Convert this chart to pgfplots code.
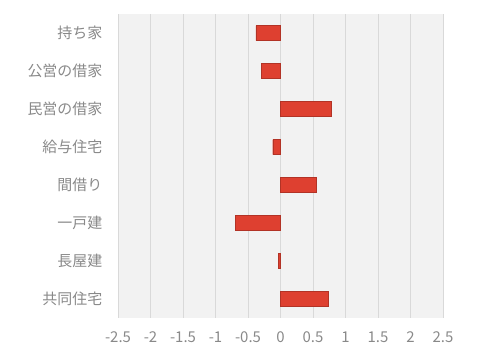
\documentclass[border=0pt]{standalone}
\usepackage{pgfplots}
\pgfplotsset{compat=1.18}
\usepackage{fontspec}
\setmainfont{Noto Sans CJK JP}
\newfontfamily\jp{Noto Sans CJK JP}
\definecolor{barred}{RGB}{222,64,48}
\definecolor{gridc}{RGB}{217,217,217}
\definecolor{bgc}{RGB}{242,242,242}
\definecolor{txt}{RGB}{137,137,137}
\begin{document}
\begin{tikzpicture}[x=1bp,y=1bp]
\useasboundingbox (0,0) rectangle (479,347);
\begin{axis}[at={(118bp,29bp)}, anchor=south west, scale only axis,
  width=325bp, height=304bp,
  xbar, bar width=15bp,
  xmin=-2.5, xmax=2.5, ymin=-0.5, ymax=7.5, y dir=reverse,
  ytick={0,...,7},
  yticklabels={持ち家,公営の借家,民営の借家,給与住宅,間借り,一戸建,長屋建,共同住宅},
  xtick={-2.5,-2,-1.5,-1,-0.5,0,0.5,1,1.5,2,2.5},
  xticklabels={-2.5,-2,-1.5,-1,-0.5,0,0.5,1,1.5,2,2.5},
  axis background/.style={fill=bgc},
  axis line style={draw=none},
  major tick style={draw=none},
  xmajorgrids, grid style={gridc, line width=0.8bp},
  tick label style={font=\jp\fontsize{15}{17}\selectfont, text=txt},
  yticklabel style={xshift=-8bp},
  xticklabel style={yshift=-10bp},
]
\addplot[fill=barred, draw=barred!80!black] coordinates {(-0.38,0) (-0.30,1) (0.78,2) (-0.12,3) (0.55,4) (-0.70,5) (-0.03,6) (0.74,7)};
\end{axis}
\end{tikzpicture}
\end{document}
